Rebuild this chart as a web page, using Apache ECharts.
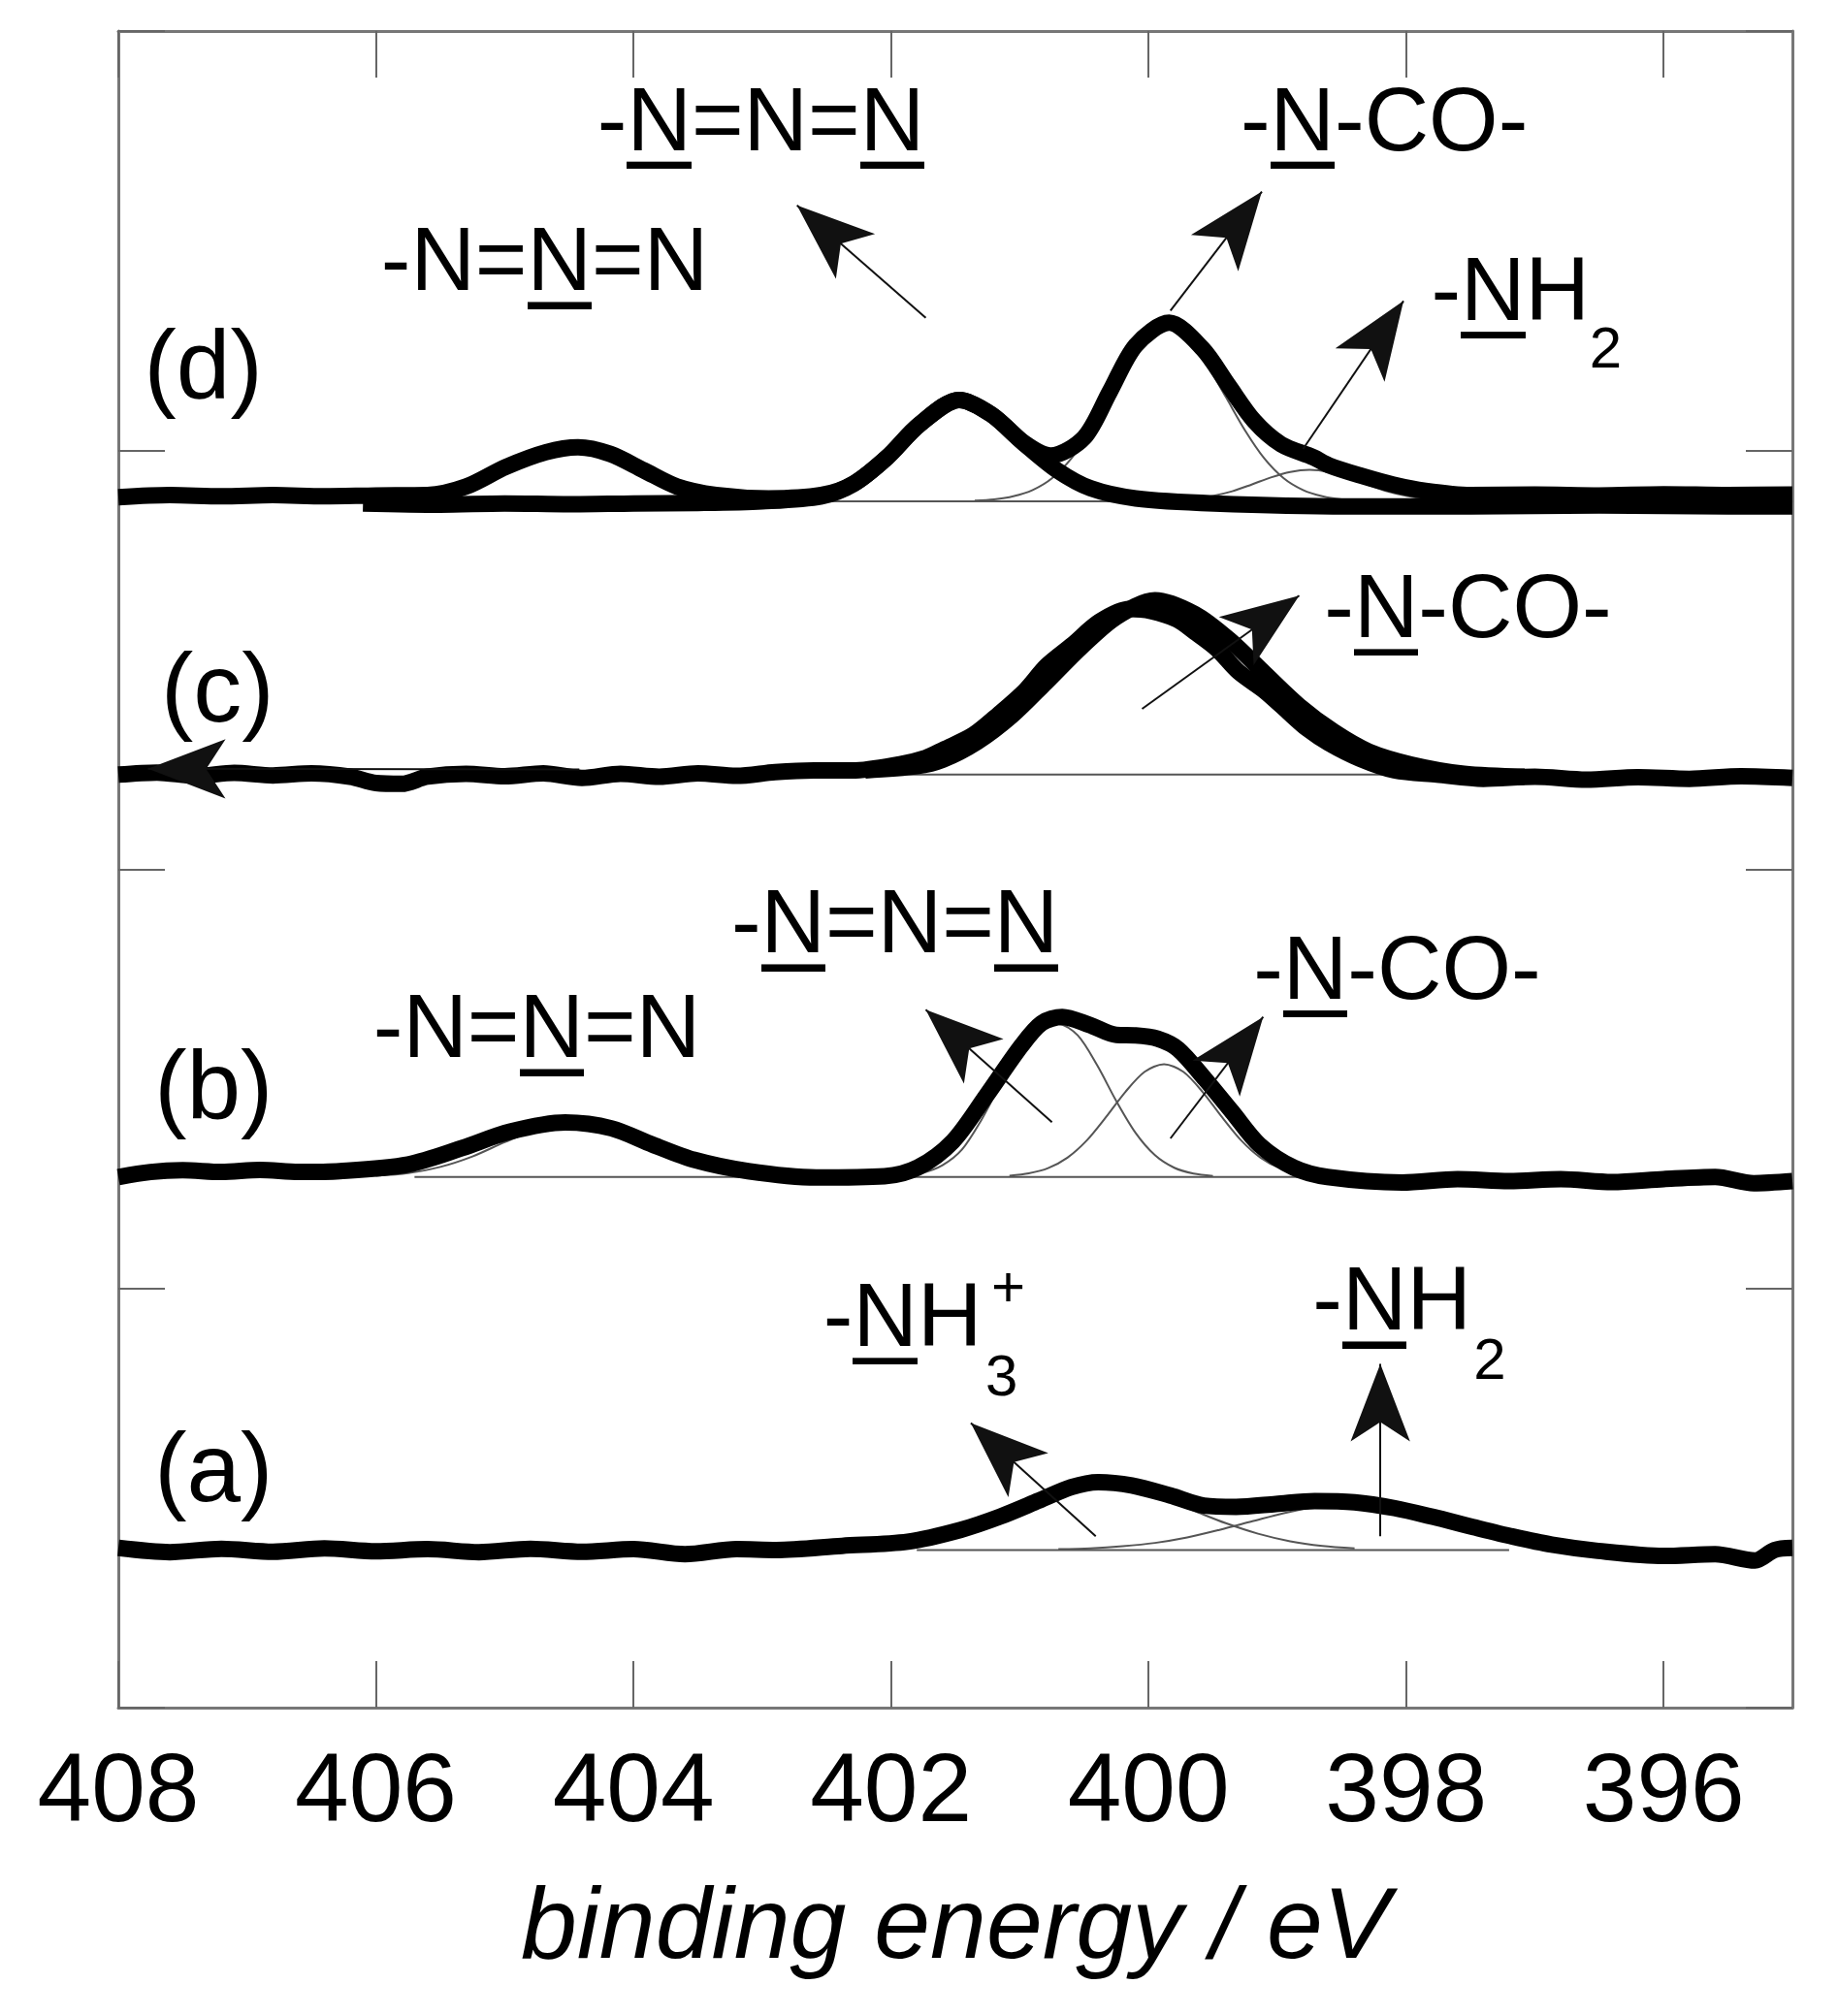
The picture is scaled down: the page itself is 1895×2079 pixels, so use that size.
<!DOCTYPE html>
<html>
<head>
<meta charset="utf-8">
<title>N 1s XPS spectra</title>
<script src="https://cdn.jsdelivr.net/npm/echarts@6.0.0/dist/echarts.min.js"></script>
<style>
  html, body { margin: 0; padding: 0; background: #fff; }
  #chart { width: 1895px; height: 2079px; }
</style>
</head>
<body>
<div id="chart"></div>
<script>
const FONT = '"Liberation Sans", Arial, Helvetica, sans-serif';

// x axis ticks (binding energy / eV)
const tickLabels = [396, 398, 400, 402, 404, 406, 408];

// vertical offsets of the traces: (a) (b) (c) (d)
const offsets = [3.76, 12.66, 22.26, 28.78];

// (a) measured spectrum
const aEnergy = [408.0, 407.6, 407.2, 406.8, 406.4, 406.0, 405.6, 405.2, 404.8, 404.4, 404.0, 403.6, 403.2, 402.89, 402.38, 401.87, 401.46, 401.15, 400.85, 400.6, 400.39, 400.13, 399.83, 399.57, 399.32, 399.01, 398.71, 398.4, 398.09, 397.79, 397.48, 397.17, 396.87, 396.51, 396.0, 395.6, 395.29, 395.14, 395.0];
const aCounts = [0.05, -0.05, 0.03, -0.04, 0.04, -0.03, 0.02, -0.05, 0.03, -0.04, 0.02, -0.1, 0.02, 0.0, 0.1, 0.2, 0.48, 0.8, 1.18, 1.5, 1.62, 1.54, 1.3, 1.06, 1.03, 1.1, 1.17, 1.14, 1.0, 0.79, 0.55, 0.32, 0.13, -0.02, -0.14, -0.1, -0.25, 0.0, 0.05];
// (a) fitted components
const aNH3Energy = [402.4, 402.15, 401.9, 401.65, 401.4, 401.15, 400.9, 400.65, 400.4, 400.15, 399.9, 399.65, 399.4, 399.15, 398.9, 398.65, 398.4];
const aNH3Counts = [0.04, 0.1, 0.21, 0.39, 0.64, 0.94, 1.24, 1.47, 1.55, 1.47, 1.24, 0.94, 0.64, 0.39, 0.21, 0.1, 0.04];
const aNH2Energy = [400.7, 400.45, 400.2, 399.95, 399.7, 399.45, 399.2, 398.95, 398.7, 398.45, 398.2, 397.95, 397.7, 397.45, 397.2, 396.95, 396.7, 396.45, 396.2];
const aNH2Counts = [0.02, 0.04, 0.09, 0.17, 0.3, 0.48, 0.68, 0.88, 1.03, 1.08, 1.03, 0.88, 0.68, 0.48, 0.3, 0.17, 0.09, 0.04, 0.02];
const aBase = [401.8, 397.2];

// (b) measured spectrum
const bEnergy = [408.0, 407.75, 407.5, 407.2, 406.9, 406.6, 406.28, 405.75, 405.33, 404.96, 404.53, 404.17, 403.85, 403.53, 403.11, 402.58, 402.05, 401.79, 401.52, 401.26, 400.99, 400.83, 400.67, 400.46, 400.25, 400.1, 399.93, 399.77, 399.56, 399.35, 399.14, 398.87, 398.61, 398.03, 397.6, 397.2, 396.8, 396.4, 396.0, 395.6, 395.3, 395.0];
const bCounts = [0.0, 0.12, 0.16, 0.12, 0.17, 0.12, 0.14, 0.3, 0.69, 1.08, 1.3, 1.16, 0.77, 0.41, 0.14, -0.01, 0.02, 0.23, 0.85, 1.94, 3.12, 3.67, 3.82, 3.63, 3.39, 3.38, 3.3, 3.05, 2.33, 1.55, 0.77, 0.22, 0.0, -0.13, -0.05, -0.1, -0.05, -0.12, -0.05, 0.0, -0.15, -0.1];
// (b) fitted components
const b404Energy = [406.0, 405.75, 405.5, 405.25, 405.0, 404.75, 404.5, 404.25, 404.0, 403.75, 403.5, 403.25, 403.0];
const b404Counts = [0.03, 0.095, 0.24, 0.49, 0.83, 1.13, 1.25, 1.13, 0.83, 0.49, 0.24, 0.095, 0.03];
const bN3Energy = [401.9, 401.75, 401.6, 401.45, 401.3, 401.15, 401.0, 400.85, 400.7, 400.55, 400.4, 400.25, 400.1, 399.95, 399.8, 399.65, 399.5];
const bN3Counts = [0.025, 0.1, 0.28, 0.65, 1.35, 2.2, 2.95, 3.48, 3.65, 3.38, 2.67, 1.81, 1.05, 0.52, 0.22, 0.08, 0.025];
const bNCOEnergy = [401.08, 400.93, 400.78, 400.63, 400.48, 400.33, 400.18, 400.03, 399.88, 399.73, 399.58, 399.43, 399.28, 399.13, 398.98, 398.83, 398.68];
const bNCOCounts = [0.03, 0.086, 0.21, 0.46, 0.87, 1.43, 2.03, 2.51, 2.69, 2.51, 2.03, 1.43, 0.87, 0.46, 0.21, 0.086, 0.03];
const bBase = [405.7, 398.8];

// (c) measured spectrum and fit envelope
const cEnergy = [408.0, 407.7, 407.4, 407.1, 406.8, 406.5, 406.2, 406.0, 405.8, 405.6, 405.3, 405.0, 404.7, 404.4, 404.1, 403.8, 403.5, 403.2, 402.9, 402.6, 402.3, 401.93, 401.73, 401.59, 401.36, 401.16, 400.96, 400.79, 400.59, 400.38, 400.15, 399.98, 399.78, 399.64, 399.47, 399.3, 399.1, 398.9, 398.77, 398.6, 398.36, 398.09, 397.76, 397.4, 397.0, 396.6, 396.2, 395.8, 395.4, 395.0];
const cCounts = [0.0, 0.05, -0.03, 0.04, -0.02, 0.03, -0.05, -0.2, -0.22, -0.05, 0.02, -0.04, 0.03, -0.08, 0.02, -0.05, 0.03, -0.03, 0.06, 0.1, 0.1, 0.25, 0.4, 0.6, 0.95, 1.45, 2.0, 2.6, 3.1, 3.65, 3.95, 3.9, 3.7, 3.4, 3.0, 2.45, 2.0, 1.45, 1.1, 0.75, 0.38, 0.1, 0.0, -0.1, -0.05, -0.12, -0.06, -0.1, -0.04, -0.08];
const cFitEnergy = [402.2, 401.8, 401.6, 401.33, 401.06, 400.8, 400.52, 400.25, 399.95, 399.64, 399.37, 399.1, 398.83, 398.56, 398.29, 397.96, 397.55, 397.08];
const cFitCounts = [0.1, 0.2, 0.35, 0.78, 1.41, 2.19, 3.05, 3.76, 4.16, 3.83, 3.21, 2.42, 1.64, 1.02, 0.55, 0.24, 0.02, -0.05];
const cBase = [401.9, 397.9];

// (d) two measured traces
const d1Energy = [408.0, 407.6, 407.2, 406.8, 406.4, 406.0, 405.6, 405.3, 404.99, 404.68, 404.43, 404.18, 403.92, 403.66, 403.36, 402.95, 402.54, 402.29, 402.03, 401.78, 401.47, 401.22, 400.96, 400.71, 400.45, 400.1, 399.49, 398.46, 397.5, 396.5, 395.5, 395.0];
const d1Counts = [0.1, 0.15, 0.12, 0.15, 0.12, 0.14, 0.15, 0.35, 0.82, 1.17, 1.29, 1.13, 0.74, 0.35, 0.15, 0.07, 0.15, 0.42, 1.05, 1.83, 2.42, 2.07, 1.36, 0.74, 0.31, 0.07, -0.05, -0.12, -0.12, -0.1, -0.12, -0.12];
const d2Energy = [406.1, 405.5, 405.0, 404.5, 404.0, 403.5, 403.0, 402.54, 402.29, 402.03, 401.78, 401.47, 401.22, 400.96, 400.76, 400.5, 400.3, 400.1, 399.84, 399.58, 399.38, 399.18, 398.97, 398.72, 398.6, 398.36, 398.1, 397.85, 397.5, 397.0, 396.5, 396.0, 395.5, 395.0];
const d2Counts = [-0.05, -0.08, -0.05, -0.07, -0.05, -0.04, 0.0, 0.12, 0.42, 1.05, 1.83, 2.42, 2.07, 1.38, 1.09, 1.52, 2.62, 3.72, 4.26, 3.64, 2.77, 1.92, 1.36, 1.05, 0.86, 0.62, 0.4, 0.25, 0.15, 0.16, 0.14, 0.17, 0.15, 0.16];
// (d) fitted components
const dNCOEnergy = [401.35, 401.2, 401.05, 400.9, 400.75, 400.6, 400.45, 400.3, 400.15, 400.0, 399.85, 399.7, 399.55, 399.4, 399.25, 399.1, 398.95, 398.8, 398.65, 398.5, 398.35];
const dNCOCounts = [0.016, 0.045, 0.12, 0.27, 0.55, 1.02, 1.69, 2.49, 3.28, 3.88, 4.1, 3.88, 3.28, 2.49, 1.69, 1.02, 0.55, 0.27, 0.12, 0.045, 0.016];
const dNH2Energy = [399.8, 399.65, 399.5, 399.35, 399.2, 399.05, 398.9, 398.75, 398.6, 398.45, 398.3, 398.15, 398.0, 397.85, 397.7];
const dNH2Counts = [0.024, 0.06, 0.13, 0.24, 0.4, 0.57, 0.7, 0.75, 0.7, 0.57, 0.4, 0.24, 0.13, 0.06, 0.024];
const dBase = [402.5, 398.3];

function trace(energy, counts, off) {
  return energy.map((e, i) => [e, counts[i] + off]);
}
function baseline(range, off) {
  return [[range[0], off], [range[1], off]];
}

// underline bar used as background of underlined letters
const bar = document.createElement('canvas');
bar.width = 8;
bar.height = 100;
const bctx = bar.getContext('2d');
bctx.fillStyle = '#000';
bctx.fillRect(0, 92, 8, 8);

const rich = {
  t: { fontSize: 92, fontFamily: FONT, color: '#000', lineHeight: 100 },
  u: { fontSize: 92, fontFamily: FONT, color: '#000', lineHeight: 100, height: 89, backgroundColor: { image: bar } },
  s: { fontSize: 60, fontFamily: FONT, color: '#000', lineHeight: 70 },
  p: { fontSize: 100, fontFamily: FONT, color: '#000', lineHeight: 110 }
};

// annotation texts (positions in data coordinates)
const labels = [
  { at: [404.69, 34.40], text: '{t|-N=}{u|N}{t|=N}' },
  { at: [403.01, 37.75], text: '{t|-}{u|N}{t|=N=}{u|N}' },
  { at: [398.17, 37.75], text: '{t|-}{u|N}{t|-CO-}' },
  { at: [397.19, 33.69], text: '{t|-}{u|N}{t|H}' },
  { at: [396.45, 32.36], text: '{s|2}' },
  { at: [407.34, 31.86], text: '{p|(d)}' },
  { at: [397.52, 26.12], text: '{t|-}{u|N}{t|-CO-}' },
  { at: [407.23, 24.16], text: '{p|(c)}' },
  { at: [404.75, 16.10], text: '{t|-N=}{u|N}{t|=N}' },
  { at: [401.97, 18.60], text: '{t|-}{u|N}{t|=N=}{u|N}' },
  { at: [398.07, 17.50], text: '{t|-}{u|N}{t|-CO-}' },
  { at: [407.26, 14.67], text: '{p|(b)}' },
  { at: [401.91, 9.21], text: '{t|-}{u|N}{t|H}' },
  { at: [401.14, 7.83], text: '{s|3}' },
  { at: [401.09, 9.95], text: '{s|+}' },
  { at: [398.11, 9.60], text: '{t|-}{u|N}{t|H}' },
  { at: [397.35, 8.22], text: '{s|2}' },
  { at: [407.26, 5.57], text: '{p|(a)}' }
];

// arrows: [tail, tip]
const arrows = [
  [[401.73, 33.16], [402.73, 35.84]],
  [[399.83, 33.33], [399.12, 36.17]],
  [[398.80, 30.03], [398.02, 33.56]],
  [[400.05, 23.83], [398.83, 26.53]],
  [[404.42, 22.38], [407.77, 22.40]],
  [[400.75, 13.97], [401.73, 16.65]],
  [[399.83, 13.58], [399.11, 16.48]],
  [[400.41, 4.09], [401.38, 6.79]],
  [[398.20, 4.09], [398.20, 8.20]]
];

function thick(data) {
  return {
    type: 'line', data: data, showSymbol: false, smooth: 0.3, z: 3,
    lineStyle: { color: '#000', width: 17, cap: 'butt', join: 'round' },
    silent: true
  };
}
function thin(data) {
  return {
    type: 'line', data: data, showSymbol: false, smooth: 0.3, z: 2,
    lineStyle: { color: '#555', width: 2 },
    silent: true
  };
}

const chart = echarts.init(document.getElementById('chart'));

const frameLine = { show: true, onZero: false, lineStyle: { color: '#777', width: 3 } };
const tick = { show: true, inside: true, length: 48, lineStyle: { color: '#666', width: 2 } };

const option = {
  backgroundColor: '#fff',
  animation: false,
  grid: { left: 122, right: 47, top: 32, bottom: 318, containLabel: false },
  xAxis: [
    {
      type: 'value', min: 395, max: 408, inverse: true, position: 'bottom',
      axisLine: frameLine,
      axisTick: Object.assign({ customValues: tickLabels }, tick),
      axisLabel: {
        customValues: tickLabels, margin: 39,
        fontSize: 100, fontFamily: FONT, color: '#000'
      },
      splitLine: { show: false },
      name: 'binding energy / eV', nameLocation: 'middle', nameGap: 177,
      nameTextStyle: { fontSize: 104, fontStyle: 'italic', fontFamily: FONT, color: '#000' }
    },
    {
      type: 'value', min: 395, max: 408, inverse: true, position: 'top',
      axisLine: frameLine,
      axisTick: Object.assign({ customValues: tickLabels }, tick),
      axisLabel: { show: false },
      splitLine: { show: false }
    }
  ],
  yAxis: [
    {
      type: 'value', min: 0, max: 40, interval: 10, position: 'left',
      axisLine: frameLine, axisTick: tick,
      axisLabel: { show: false }, splitLine: { show: false }
    },
    {
      type: 'value', min: 0, max: 40, interval: 10, position: 'right',
      axisLine: frameLine, axisTick: tick,
      axisLabel: { show: false }, splitLine: { show: false }
    }
  ],
  series: [
    // thin fitted lines
    thin(trace(aNH3Energy, aNH3Counts, offsets[0])),
    thin(trace(aNH2Energy, aNH2Counts, offsets[0])),
    thin(baseline(aBase, offsets[0])),
    thin(trace(b404Energy, b404Counts, offsets[1])),
    thin(trace(bN3Energy, bN3Counts, offsets[1])),
    thin(trace(bNCOEnergy, bNCOCounts, offsets[1])),
    thin(baseline(bBase, offsets[1])),
    thin(baseline(cBase, offsets[2])),
    thin(trace(dNCOEnergy, dNCOCounts, offsets[3])),
    thin(trace(dNH2Energy, dNH2Counts, offsets[3])),
    thin(baseline(dBase, offsets[3])),
    // measured traces
    thick(trace(aEnergy, aCounts, offsets[0])),
    thick(trace(bEnergy, bCounts, offsets[1])),
    thick(trace(cEnergy, cCounts, offsets[2])),
    thick(trace(cFitEnergy, cFitCounts, offsets[2])),
    thick(trace(d1Energy, d1Counts, offsets[3])),
    thick(trace(d2Energy, d2Counts, offsets[3])),
    // annotations
    {
      type: 'scatter', z: 5, silent: true,
      symbolSize: 1,
      itemStyle: { color: 'rgba(0,0,0,0)', opacity: 1 },
      label: { show: true, position: 'inside', color: '#000', opacity: 1, textBorderWidth: 0, rich: rich },
      data: labels.map(l => ({ value: l.at, label: { formatter: l.text } })),
      markLine: {
        silent: true, animation: false,
        symbol: ['none', 'arrow'],
        lineStyle: { color: '#111', width: 2, type: 'solid', opacity: 1 },
        label: { show: false },
        emphasis: { disabled: true },
        data: arrows.map(a => [
          { coord: a[0], symbol: 'none' },
          { coord: a[1], symbol: 'arrow', symbolSize: [46, 80] }
        ])
      }
    }
  ]
};

chart.setOption(option);
</script>
</body>
</html>
